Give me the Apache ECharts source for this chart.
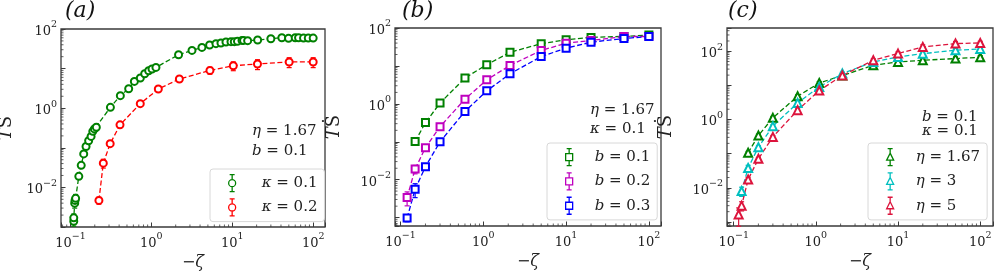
<!DOCTYPE html>
<html><head><meta charset="utf-8">
<script src="https://cdn.jsdelivr.net/npm/echarts@6/dist/echarts.min.js"></script>
<style>html,body{margin:0;padding:0;background:#fff}#c{width:997px;height:273px}</style>
</head><body><div id="c"></div>
<script>
// ---------- data ----------
// panel (a): eta = 1.67, b = 0.1
const xA1 = [0.110,0.110,0.113,0.114,0.116,0.127,0.136,0.146,0.156,0.168,0.180,0.189,0.198,0.209,0.312,0.414,0.525,0.617,0.731,0.828,0.927,1.02,1.14,2.17,3.18,4.22,5.25,6.29,7.25,8.36,9.64,10.6,11.6,13.2,13.8,15.5,20.6,30,41,49.6,60,66,76,87,100];
const yA1 = [0.0014,0.0017,0.0040,0.0047,0.0053,0.019,0.036,0.070,0.108,0.151,0.194,0.26,0.30,0.33,1.05,2.07,3.1,4.75,5.8,7.4,8.85,9.8,10.7,22.4,28.8,34.3,39.4,42.6,44.3,47,47.9,47.9,48.7,51.5,51.5,50.7,52.7,56.9,60.3,58,60.3,60.3,59,59,59];
const eA1 = [0.25,0.25,0.25,0.25,0.25,0.12,0.1,0.08,0.08,0.08,0.08,0.08,0.08,0.08,0.08,0.08,0.08,0.08,0.08,0.08,0.08,0.08,0.08,0.08,0.08,0.08,0.08,0.08,0.08,0.08,0.08,0.08,0.08,0.08,0.08,0.08,0.08,0.1,0.12,0.12,0.12,0.12,0.12,0.12,0.12];
const xA2 = [0.225,0.255,0.31,0.41,0.73,1.22,2.22,5.3,10.3,20.5,50.5,100];
const yA2 = [0.0047,0.041,0.127,0.38,1.3,3.05,5.46,9.0,11.8,13.1,14.7,14.7];
const eA2 = [0.2,0.25,0.15,0.1,0.1,0.1,0.15,0.2,0.25,0.28,0.28,0.28];
// panel (b): eta = 1.67, kappa = 0.1
const xB1 = [0.15,0.2,0.3,0.6,1.1,2.1,5,10,20,50,100];
const yB1 = [0.102,0.32,1.05,4.8,10.8,22.8,38.5,49,56.5,60,65];
const eB1 = [0.1,0.1,0.1,0.1,0.1,0.1,0.1,0.1,0.12,0.12,0.12];
const xB2 = [0.12,0.15,0.2,0.3,0.6,1.1,2.1,5,10,20,50,100];
const yB2 = [0.0034,0.019,0.070,0.25,1.33,4.3,10.3,25.5,39.8,46.8,59.7,59.7];
const eB2 = [0.4,0.25,0.15,0.1,0.1,0.1,0.1,0.1,0.1,0.12,0.12,0.12];
const xB3 = [0.12,0.15,0.2,0.3,0.6,1.1,2.1,5,10,20,50,100];
const yB3 = [0.00097,0.0056,0.022,0.10,0.63,2.2,6.2,17.7,29.4,42.3,52.8,59.7];
const eB3 = [0.2,0.4,0.2,0.1,0.1,0.1,0.1,0.1,0.12,0.15,0.15,0.12];
// panel (c): b = 0.1, kappa = 0.1
const xC1 = [0.15,0.2,0.3,0.6,1.1,2.1,5,10,20,50,100];
const yC1 = [0.106,0.34,1.12,4.8,11.8,19.4,38.9,48.7,54.5,61,66.7];
const eC1 = [0.1,0.1,0.1,0.1,0.1,0.1,0.1,0.12,0.12,0.12,0.12];
const xC2 = [0.125,0.15,0.2,0.3,0.6,1.1,2.1,5,10,20,50,100];
const yC2 = [0.008,0.038,0.155,0.64,3.07,9.0,22.2,48.7,68,85,107,117];
const eC2 = [0.3,0.2,0.1,0.1,0.1,0.1,0.1,0.1,0.12,0.12,0.15,0.15];
const xC3 = [0.115,0.125,0.15,0.2,0.3,0.6,1.1,2.1,5,10,20,50,100];
const yC3 = [0.00166,0.003,0.0175,0.0706,0.31,1.88,7.06,19.4,54.5,85.5,134,168,175];
const eC3 = [0.55,0.3,0.15,0.1,0.1,0.1,0.1,0.1,0.1,0.12,0.15,0.15,0.12];

const seriesNames = ['κ = 0.1','κ = 0.2','b = 0.1','b = 0.2','b = 0.3','η = 1.67','η = 3','η = 5'];
const xTickExps = [-1,0,1,2];
const yTickExps = [-2,0,2];
const minorSubs = [2,3,4,5,6,7,8,9];

// ---------- style ----------
const FONT = 'DejaVu Serif';
const FRAME = '#3a3a3a';
const GREEN = '#008000', RED = '#ff0000', MAG = '#bf00bf', BLUE = '#0000ff', CYAN = '#00bfbf', CRIM = '#dc143c';

const grids = [
  {left:61, top:29, width:264, height:198},
  {left:395, top:28, width:266, height:198},
  {left:727, top:28, width:266, height:198}
];
const xRanges = [[0.0765,140],[0.0857,140],[0.083,143]];
const yRanges = [[0.001,100],[0.0006,100],[0.00076,480]];
const yNameGaps = [46,52,52];

function fmtLog(v, allowed) {
  const e = Math.log10(v);
  const r = Math.round(e);
  if (Math.abs(e - r) > 1e-6 || allowed.indexOf(r) < 0) return '';
  return '{b|10}{s|' + (r < 0 ? '\u2212' + (-r) : r) + '}';
}
const labelRich = {
  b:{fontFamily:FONT, fontSize:13, color:'#222', lineHeight:18, verticalAlign:'bottom'},
  s:{fontFamily:FONT, fontSize:9.5, color:'#222', lineHeight:10, verticalAlign:'top'}
};

const xAxes = grids.map((g,i)=>({
  type:'log', gridIndex:i, min:xRanges[i][0], max:xRanges[i][1],
  axisLine:{show:false},
  axisTick:{show:true, inside:true, length:4.5, lineStyle:{color:FRAME, width:1}},
  splitLine:{show:false},
  axisLabel:{margin:5, fontFamily:FONT, formatter:v=>fmtLog(v,xTickExps), rich:labelRich},
  name:'\u2212{z|ζ}', nameLocation:'middle', nameGap:13,
  nameTextStyle:{fontFamily:FONT, fontSize:16, color:'#222', rich:{z:{fontFamily:FONT, fontSize:16, fontStyle:'italic', color:'#222'}}}
}));
const yAxes = grids.map((g,i)=>({
  type:'log', gridIndex:i, min:yRanges[i][0], max:yRanges[i][1],
  axisLine:{show:false},
  axisTick:{show:true, inside:true, length:4.5, lineStyle:{color:FRAME, width:1}},
  splitLine:{show:false},
  axisLabel:{margin:4, fontFamily:FONT, formatter:v=>fmtLog(v,yTickExps), rich:labelRich},
  name:'{t|T}{s|Ṡ}', nameLocation:'middle', nameGap:yNameGaps[i], nameRotate:90,
  nameTextStyle:{fontFamily:FONT, fontSize:18, color:'#222', rich:{
    t:{fontFamily:FONT, fontSize:18, fontStyle:'italic', color:'#222'},
    s:{fontFamily:FONT, fontSize:18, color:'#222'}
  }}
}));

function minorTicks(gi) {
  const xs = [], ys = [];
  for (let d = -5; d <= 3; d++) for (const m of minorSubs) {
    const v = m * Math.pow(10, d);
    if (v > xRanges[gi][0] && v < xRanges[gi][1]) xs.push(v);
    if (v > yRanges[gi][0] && v < yRanges[gi][1]) ys.push(v);
  }
  return {
    type:'custom', xAxisIndex:gi, yAxisIndex:gi, silent:true, clip:false, z:1,
    data:[[1,1]],
    renderItem(params, api) {
      const ch = [];
      xs.forEach(v=>{ const p = api.coord([v, yRanges[gi][0]]);
        ch.push({type:'line', shape:{x1:p[0],y1:p[1],x2:p[0],y2:p[1]-2.5}, style:{stroke:FRAME, lineWidth:0.8}}); });
      ys.forEach(v=>{ const p = api.coord([xRanges[gi][0], v]);
        ch.push({type:'line', shape:{x1:p[0],y1:p[1],x2:p[0]+2.5,y2:p[1]}, style:{stroke:FRAME, lineWidth:0.8}}); });
      return {type:'group', children:ch};
    }
  };
}

function errSeries(gi, xs, ys, es, color) {
  return {
    type:'custom', xAxisIndex:gi, yAxisIndex:gi, silent:true, z:2,
    data: xs.map((x,k)=>[x, ys[k]*(1-es[k]), ys[k]*(1+es[k])]),
    encode:{x:0, y:[1,2]},
    renderItem(params, api) {
      const p1 = api.coord([api.value(0), api.value(1)]);
      const p2 = api.coord([api.value(0), api.value(2)]);
      const st = {stroke:color, lineWidth:1.2};
      return {type:'group', children:[
        {type:'line', shape:{x1:p1[0],y1:p1[1],x2:p2[0],y2:p2[1]}, style:st},
        {type:'line', shape:{x1:p1[0]-2.5,y1:p1[1],x2:p1[0]+2.5,y2:p1[1]}, style:st},
        {type:'line', shape:{x1:p2[0]-2.5,y1:p2[1],x2:p2[0]+2.5,y2:p2[1]}, style:st}
      ]};
    }
  };
}

const SYM = {circle:'emptyCircle', square:'emptyRect', triangle:'emptyTriangle'};
function lineSeries(gi, name, xs, ys, color, sym, size) {
  return {
    type:'line', name, xAxisIndex:gi, yAxisIndex:gi, z:3,
    data: xs.map((x,k)=>[x, ys[k]]),
    symbol:SYM[sym], symbolSize:size, showAllSymbol:true,
    itemStyle:{color, borderWidth:1.3},
    lineStyle:{color, width:1.3, type:[5,2.5]},
    emphasis:{disabled:true}, animation:false
  };
}

const ICONS = {
  circle:'path://M7.5,8.5 A3.5,3.5 0 1 1 0.5,8.5 A3.5,3.5 0 1 1 7.5,8.5 Z M4,0 L4,5 M4,12 L4,17 M1.5,0 L6.5,0 M1.5,17 L6.5,17',
  square:'path://M0.5,5 L7.5,5 L7.5,12 L0.5,12 Z M4,0 L4,5 M4,12 L4,17 M1.5,0 L6.5,0 M1.5,17 L6.5,17',
  triangle:'path://M4,4.5 L7.5,11.5 L0.5,11.5 Z M4,0 L4,4.5 M4,11.5 L4,17 M1.5,0 L6.5,0 M1.5,17 L6.5,17'
};
function legend(names, colors, icon, left, top, textPad) {
  return {
    orient:'vertical', left, top, padding:[5,7,5,18], itemGap:6, itemWidth:7, itemHeight:17,
    borderColor:'#d8d8d8', borderWidth:1, borderRadius:3, backgroundColor:'rgba(255,255,255,0.85)',
    icon:ICONS[icon], selectedMode:false,
    itemStyle:{color:'#fff', borderWidth:1.3},
    data: names.map((n,k)=>({name:n, itemStyle:{borderColor:colors[k]}})),
    formatter: n => '{i|' + n[0] + '}{t|' + n.slice(1) + '}',
    textStyle:{fontFamily:FONT, rich:{
      i:{fontFamily:FONT, fontSize:15, fontStyle:'italic', color:'#222', padding:[0,0,0,textPad]},
      t:{fontFamily:FONT, fontSize:15, color:'#222'}
    }}
  };
}

function annot(x, y, first, rest) {
  return {type:'text', x, y, style:{
    text:'{i|' + first + '}{t|' + rest + '}', align:'left', verticalAlign:'middle',
    fontFamily:FONT, fontSize:15,
    rich:{i:{fontFamily:FONT, fontSize:15, fontStyle:'italic', fill:'#222'},
          t:{fontFamily:FONT, fontSize:15, fill:'#222'}}
  }};
}
function panelLabel(x, txt) {
  return {type:'text', x, y:11, style:{text:txt, fontFamily:FONT, fontSize:22, fontStyle:'italic', fill:'#111', verticalAlign:'middle'}};
}

const series = [
  minorTicks(0), minorTicks(1), minorTicks(2),
  errSeries(0, xA1, yA1, eA1, GREEN), errSeries(0, xA2, yA2, eA2, RED),
  errSeries(1, xB1, yB1, eB1, GREEN), errSeries(1, xB2, yB2, eB2, MAG), errSeries(1, xB3, yB3, eB3, BLUE),
  errSeries(2, xC1, yC1, eC1, GREEN), errSeries(2, xC2, yC2, eC2, CYAN), errSeries(2, xC3, yC3, eC3, CRIM),
  lineSeries(0, seriesNames[0], xA1, yA1, GREEN, 'circle', 7),
  lineSeries(0, seriesNames[1], xA2, yA2, RED, 'circle', 7),
  lineSeries(1, seriesNames[2], xB1, yB1, GREEN, 'square', 7),
  lineSeries(1, seriesNames[3], xB2, yB2, MAG, 'square', 7),
  lineSeries(1, seriesNames[4], xB3, yB3, BLUE, 'square', 7),
  lineSeries(2, seriesNames[5], xC1, yC1, GREEN, 'triangle', 8),
  lineSeries(2, seriesNames[6], xC2, yC2, CYAN, 'triangle', 8),
  lineSeries(2, seriesNames[7], xC3, yC3, CRIM, 'triangle', 8)
];

const chart = echarts.init(document.getElementById('c'), null, {renderer:'canvas'});
chart.setOption({
  animation:false,
  backgroundColor:'#fff',
  textStyle:{fontFamily:FONT},
  grid: grids.map(g=>Object.assign({show:true, borderColor:FRAME, borderWidth:1.3, backgroundColor:'transparent', containLabel:false, outerBoundsMode:'none'}, g)),
  xAxis:xAxes, yAxis:yAxes,
  legend:[
    legend(seriesNames.slice(0,2), [GREEN,RED], 'circle', 210, 169, 21),
    legend(seriesNames.slice(2,5), [GREEN,MAG,BLUE], 'square', 547, 143, 17),
    legend(seriesNames.slice(5,8), [GREEN,CYAN,CRIM], 'triangle', 868, 143, 17)
  ],
  graphic:[
    panelLabel(65,'(a)'), panelLabel(402,'(b)'), panelLabel(728,'(c)'),
    annot(252, 131, 'η', ' = 1.67'), annot(252, 151, 'b', ' = 0.1'),
    annot(590, 110.5, 'η', ' = 1.67'), annot(590, 129.5, 'κ', ' = 0.1'),
    annot(922, 117, 'b', ' = 0.1'), annot(922, 131, 'κ', ' = 0.1')
  ],
  series
});
</script></body></html>
